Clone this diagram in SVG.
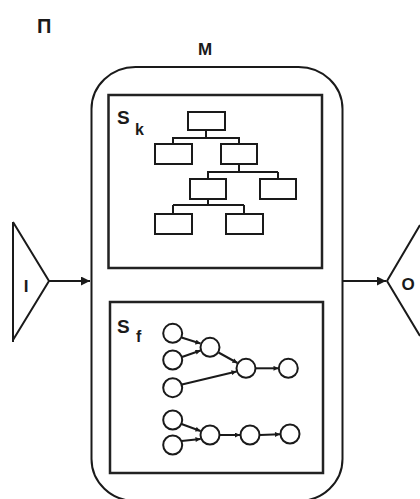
<svg xmlns="http://www.w3.org/2000/svg" width="420" height="499" viewBox="0 0 420 499">
<style>
.ln{fill:none;stroke:#1a1a1a;stroke-width:2}
.box{fill:none;stroke:#222;stroke-width:2.5}
.tb{fill:#fff;stroke:#1a1a1a;stroke-width:2}
.nd{fill:#fff;stroke:#1a1a1a;stroke-width:2}
.t{font-family:"Liberation Sans",Arial,sans-serif;font-weight:bold;fill:#1a1a1a}
</style>
<defs>
<marker id="ah" viewBox="0 0 10 10" refX="10" refY="5" markerWidth="10" markerHeight="9" markerUnits="userSpaceOnUse" orient="auto">
<path d="M0,0 L10,5 L0,10 z" fill="#1a1a1a"/>
</marker>
<marker id="sa" viewBox="0 0 10 10" refX="10" refY="5" markerWidth="6" markerHeight="5" markerUnits="userSpaceOnUse" orient="auto">
<path d="M0,0 L10,5 L0,10 z" fill="#1a1a1a"/>
</marker>
</defs>
<rect width="420" height="499" fill="#fff"/>
<text class="t" x="37" y="33" font-size="20">П</text>
<g id="M">
<rect class="ln" x="91.5" y="67" width="251" height="434" rx="44" ry="42"/>
<text class="t" x="205" y="55" font-size="17" text-anchor="middle">M</text>
</g>
<g id="I">
<path class="ln" d="M13,222 V342 M13,222 L49,281 L13,340"/>
<text class="t" x="26" y="292" font-size="17" text-anchor="middle">I</text>
</g>
<g id="O">
<path class="ln" d="M420,225 L387,281 L420,336"/>
<text class="t" x="408" y="290" font-size="17" text-anchor="middle">O</text>
</g>
<g id="Sk">
<rect class="box" x="108.5" y="95" width="213.5" height="173"/>
<text class="t" x="117" y="124" font-size="19">S</text>
<text class="t" x="135" y="135" font-size="16">k</text>
<g id="tree-edges">
<path class="ln" d="M206,130 V138 M172,138 H240 M173,138 V144 M239,138 V144 M239,164 V172 M207,172 H278 M208,172 V179 M278,172 V179 M208,199 V205 M173,205 H244 M173,205 V214 M244,205 V214"/>
</g>
<rect class="tb" x="188" y="112" width="37" height="18"/>
<rect class="tb" x="155" y="144" width="37" height="20"/>
<rect class="tb" x="221" y="144" width="36" height="20"/>
<rect class="tb" x="190" y="179" width="36" height="20"/>
<rect class="tb" x="260" y="179" width="36" height="20"/>
<rect class="tb" x="155" y="214" width="37" height="20"/>
<rect class="tb" x="226" y="214" width="37" height="20"/>
</g>
<g id="Sf">
<rect class="box" x="110" y="302" width="213" height="171"/>
<text class="t" x="117" y="333" font-size="19">S</text>
<text class="t" x="136" y="342" font-size="16">f</text>
<g id="graph-edges">
<path class="ln" d="M181.5,337.5 L200.5,343.5" marker-end="url(#sa)"/>
<path class="ln" d="M182,357 L200.5,350.5" marker-end="url(#sa)"/>
<path class="ln" d="M218.5,352.5 L237.5,363" marker-end="url(#sa)"/>
<path class="ln" d="M182,384.5 L236.5,371.5" marker-end="url(#sa)"/>
<path class="ln" d="M256,368.3 L278.5,368.3" marker-end="url(#sa)"/>
<path class="ln" d="M181.5,424 L200.5,431" marker-end="url(#sa)"/>
<path class="ln" d="M181.5,441 L200.5,439" marker-end="url(#sa)"/>
<path class="ln" d="M220,435 L240,435" marker-end="url(#sa)"/>
<path class="ln" d="M260,435 L280,434.2" marker-end="url(#sa)"/>
</g>
<circle class="nd" cx="172.7" cy="333.3" r="9.5"/>
<circle class="nd" cx="172.7" cy="360" r="9.5"/>
<circle class="nd" cx="172.7" cy="387.7" r="9.5"/>
<circle class="nd" cx="210" cy="347.3" r="9.5"/>
<circle class="nd" cx="246" cy="368.3" r="9.5"/>
<circle class="nd" cx="288.3" cy="368.3" r="9.5"/>
<circle class="nd" cx="172.7" cy="420" r="9.5"/>
<circle class="nd" cx="172.7" cy="445" r="9.5"/>
<circle class="nd" cx="210" cy="435" r="9.5"/>
<circle class="nd" cx="250" cy="435" r="9.5"/>
<circle class="nd" cx="290" cy="434" r="9.5"/>
</g>
<g id="connectors">
<path class="ln" d="M49,281 H90" marker-end="url(#ah)"/>
<path class="ln" d="M343,281 H386" marker-end="url(#ah)"/>
</g>
</svg>
